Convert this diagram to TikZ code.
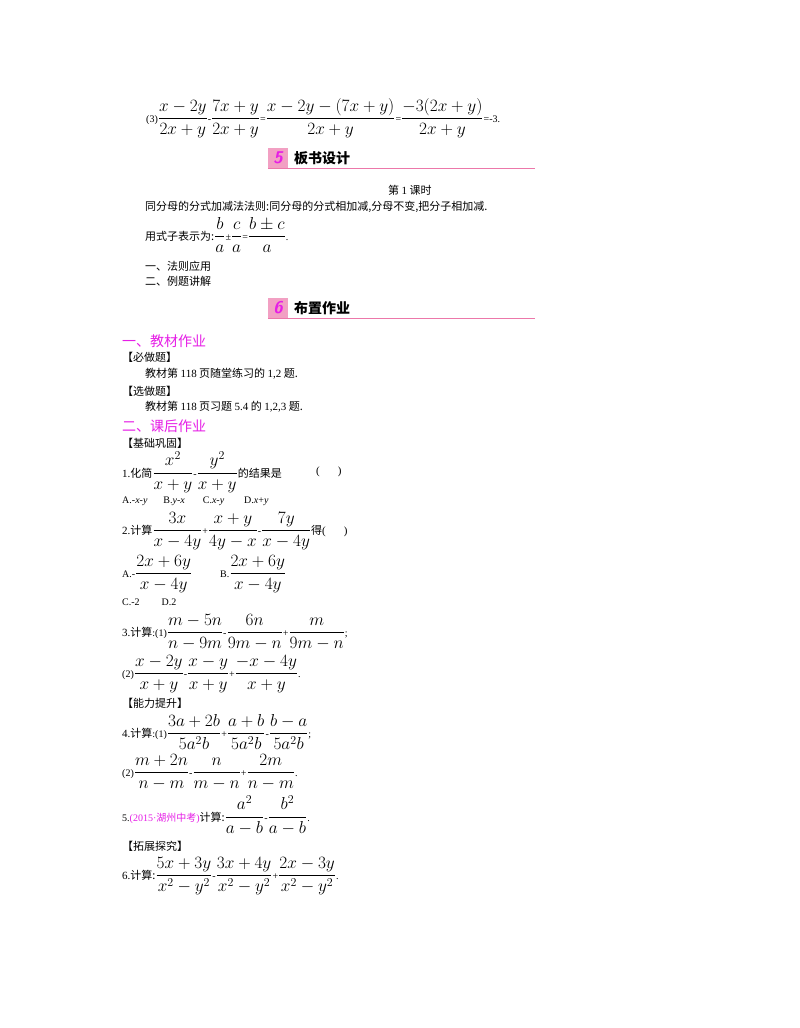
\documentclass[tikz,border=0pt]{standalone}
\usepackage{amsmath}
\usepackage{fontspec}
\setmainfont{Liberation Serif}
\newfontfamily\cjk{Noto Sans CJK SC}
\definecolor{mag}{RGB}{230,30,230}
\definecolor{pk}{RGB}{236,120,170}
\tikzset{
 t/.style={anchor=west,inner sep=0pt,font=\fontsize{11}{12}\selectfont},
 m/.style={anchor=west,inner sep=0pt,font=\fontsize{17}{18}\selectfont},
 h/.style={anchor=west,inner sep=0pt,text=mag,font=\fontsize{14}{15}\selectfont\cjk},
 badge/.style={fill=pk!70,minimum width=20pt,minimum height=20pt,inner sep=0pt,text=mag,font=\fontsize{17}{17}\selectfont\bfseries\itshape\sffamily},
 ttl/.style={anchor=west,inner sep=0pt,font=\fontsize{14}{15}\selectfont\bfseries\cjk}
}
\newcommand{\fr}[2]{\dfrac{#1}{#2}}
\newcommand{\sm}{\fontsize{10}{11}\selectfont}
\newcommand{\md}{\fontsize{11}{12}\selectfont}
\begin{document}
\begin{tikzpicture}[x=1pt,y=-1pt]
\useasboundingbox (0,0) rectangle (800,1028);
\fill[white] (0,0) rectangle (800,1028);
\node[m] (l3) at (146,118) {{\sm(3)}$\fr{x-2y}{2x+y}\text{\sm -}\fr{7x+y}{2x+y}\text{\sm =}\fr{x-2y-(7x+y)}{2x+y}\text{\sm =}\fr{-3(2x+y)}{2x+y}\text{\sm =-3.}$};
\node[badge] (b5) at (278,158) {5};
\node[ttl] (t5) at (294,158) {板书设计};
\draw[pk,line width=0.8pt] (268,168) -- (535,168);
\node[t] (k1) at (388,190) {\cjk 第 {\rmfamily 1} 课时};
\node[t] (r1) at (145,207) {\cjk 同分母的分式加减法法则:同分母的分式相加减,分母不变,把分子相加减.};
\node[m] (r2) at (145,235) {{\cjk\md 用式子表示为:}$\fr{b}{a}\text{\sm ±}\fr{c}{a}\text{\sm =}\fr{b\pm c}{a}$\sm.};
\node[t] (y1) at (145,266) {\cjk 一、法则应用};
\node[t] (y2) at (145,281) {\cjk 二、例题讲解};
\node[badge] (b6) at (278,308) {6};
\node[ttl] (t6) at (294,308) {布置作业};
\draw[pk,line width=0.8pt] (268,318) -- (535,318);
\node[h] (h1) at (122,341) {一、教材作业};
\node[t] (p1) at (122,357) {\cjk 【必做题】};
\node[t] (p2) at (145,374) {\cjk 教材第 {\rmfamily 118} 页随堂练习的 {\rmfamily 1,2} 题.};
\node[t] (p3) at (122,391) {\cjk 【选做题】};
\node[t] (p4) at (145,407) {\cjk 教材第 {\rmfamily 118} 页习题 {\rmfamily 5.4} 的 {\rmfamily 1,2,3} 题.};
\node[h] (h2) at (122,426) {二、课后作业};
\node[t] (p5) at (122,443) {\cjk 【基础巩固】};
\node[m] (q1) at (122,472) {{\md 1.\cjk 化简}$\fr{x^2}{x+y}\text{\sm -}\fr{y^2}{x+y}${\md\cjk 的结果是}};
\node[t] (q1p) at (316,472) {(\hspace{18pt})};
\node[t] (q1a) at (122,501) {\sm A.-\textit{x}-\textit{y}\hspace{16pt}B.\textit{y}-\textit{x}\hspace{18pt}C.\textit{x}-\textit{y}\hspace{20pt}D.\textit{x}+\textit{y}};
\node[m] (q2) at (122,531) {{\md 2.\cjk 计算}$\fr{3x}{x-4y}\text{\sm +}\fr{x+y}{4y-x}\text{\sm -}\fr{7y}{x-4y}${\md\cjk 得}{\md(\hspace{18pt})}};
\node[m] (q2a) at (122,574) {{\sm A.-}$\fr{2x+6y}{x-4y}$};
\node[m] (q2b) at (220,574) {{\sm B.}$\fr{2x+6y}{x-4y}$};
\node[t] (q2c) at (122,602) {\sm C.-2\hspace{22pt}D.2};
\node[m] (q3) at (122,632) {{\md 3.\cjk 计算}{\sm:(1)}$\fr{m-5n}{n-9m}\text{\sm -}\fr{6n}{9m-n}\text{\sm +}\fr{m}{9m-n}${\sm;}};
\node[m] (q3b) at (122,674) {{\sm(2)}$\fr{x-2y}{x+y}\text{\sm -}\fr{x-y}{x+y}\text{\sm +}\fr{-x-4y}{x+y}${\sm.}};
\node[t] (p6) at (122,703) {\cjk 【能力提升】};
\node[m] (q4) at (122,732) {{\md 4.\cjk 计算}{\sm:(1)}$\fr{3a+2b}{5a^2b}\text{\sm +}\fr{a+b}{5a^2b}\text{\sm -}\fr{b-a}{5a^2b}${\sm;}};
\node[m] (q4b) at (122,772) {{\sm(2)}$\fr{m+2n}{n-m}\text{\sm -}\fr{n}{m-n}\text{\sm +}\fr{2m}{n-m}${\sm.}};
\node[m] (q5) at (122,815) {{\sm 5.}{\sm\color{mag}(2015·{\cjk 湖州中考})}{\md\cjk 计算:}$\fr{a^2}{a-b}\text{\sm -}\fr{b^2}{a-b}${\sm.}};
\node[t] (p7) at (122,846) {\cjk 【拓展探究】};
\node[m] (q6) at (122,876) {{\md 6.\cjk 计算:}$\fr{5x+3y}{x^2-y^2}\text{\sm -}\fr{3x+4y}{x^2-y^2}\text{\sm +}\fr{2x-3y}{x^2-y^2}${\sm.}};
\end{tikzpicture}
\end{document}
